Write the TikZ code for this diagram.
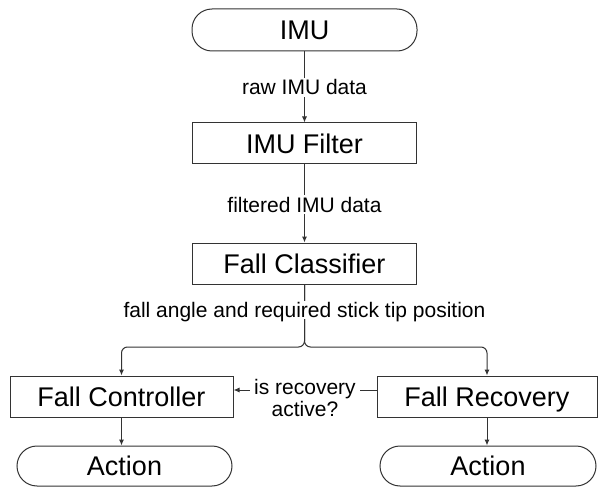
\documentclass[tikz,border=0pt]{standalone}
\usepackage{fontspec}
\setmainfont{Liberation Sans}
\usetikzlibrary{arrows.meta}
\tikzset{
  boxfont/.style={font=\fontsize{27}{30}\selectfont},
  lblfont/.style={font=\fontsize{21}{21.5}\selectfont},
  procbox/.style={draw=black!80, line width=1pt, rectangle, inner sep=0pt, boxfont, text height=19.4pt, text depth=0pt},
  termbox/.style={procbox, rounded corners=20pt},
  arr/.style={draw=black!80, line width=1pt, -{Latex[length=6pt,width=5pt]}},
  plain/.style={draw=black!80, line width=1pt},
  lbl/.style={lblfont, fill=white, inner xsep=3pt, inner ysep=2pt}
}
\begin{document}
\begin{tikzpicture}[x=1pt,y=-1pt]
\useasboundingbox (0,0) rectangle (598,487);
\node[termbox, minimum width=225pt, minimum height=42pt] (imu) at (304.5,30) {IMU};
\node[procbox, minimum width=224pt, minimum height=41pt] (filt) at (304.5,143.5) {IMU Filter};
\node[procbox, minimum width=224pt, minimum height=41pt] (cls) at (304.5,263.5) {Fall Classifier};
\node[procbox, minimum width=223pt, minimum height=41pt] (ctrl) at (121.5,396.5) {Fall Controller};
\node[procbox, minimum width=220pt, minimum height=41pt] (rec) at (487,396.5) {Fall Recovery};
\node[termbox, minimum width=215pt, minimum height=40pt] (act1) at (124.5,466) {Action};
\node[termbox, minimum width=216pt, minimum height=40pt] (act2) at (488,466) {Action};
\coordinate (split) at (304.5,347);
\coordinate (q) at (0,390);
\draw[arr] (imu.south) -- (filt.north);
\draw[arr] (filt.south) -- (cls.north);
\draw[arr, rounded corners=6pt] (cls.south) -- (split) -| (ctrl.north);
\draw[arr, rounded corners=6pt] (cls.south) -- (split) -| (rec.north);
\draw[arr] (ctrl.south) -- (ctrl.south |- act1.north);
\draw[arr] (rec.south) -- (rec.south |- act2.north);
\draw[arr] (rec.west |- q) -- (ctrl.east |- q);
\node[lbl, anchor=base] (l1) at (304.5,95) {raw IMU data};
\node[lbl, anchor=base] (l2) at (304.5,212) {filtered IMU data};
\node[lbl, anchor=base, text depth=0pt, inner ysep=1pt] (l3) at (304.5,317.5) {fall angle and required stick tip position};
\node[lbl, align=center, inner xsep=4pt, inner ysep=0pt] (l4) at (305,398) {is recovery\\active?};
\end{tikzpicture}
\end{document}
